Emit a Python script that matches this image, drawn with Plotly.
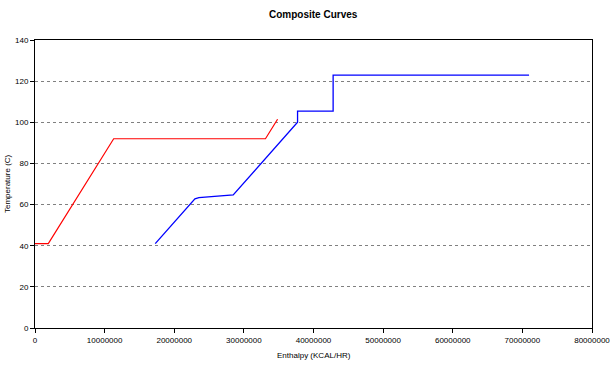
import plotly.graph_objects as go

# Hot composite curve (red)
hot_enthalpy = [0, 1910000, 11300000, 33100000, 34840000]
hot_temp = [41, 41, 92, 92, 101.5]

# Cold composite curve (blue)
cold_enthalpy = [17270000, 22970000, 23540000, 25370000, 27030000, 28470000,
                 37710000, 37710000, 42820000, 42820000, 70960000]
cold_temp = [41, 62.8, 63.4, 63.9, 64.4, 64.7, 100, 105.4, 105.4, 122.9, 122.9]

x_ticks = [0, 10000000, 20000000, 30000000, 40000000, 50000000, 60000000, 70000000, 80000000]
y_ticks = [0, 20, 40, 60, 80, 100, 120, 140]

fig = go.Figure()
fig.add_trace(go.Scatter(x=hot_enthalpy, y=hot_temp, mode="lines",
                         line=dict(color="#ff0000", width=1.2), showlegend=False))
fig.add_trace(go.Scatter(x=cold_enthalpy, y=cold_temp, mode="lines",
                         line=dict(color="#0000ff", width=1.3), showlegend=False))

font_family = "Liberation Sans, Arial, sans-serif"
fig.update_layout(
    width=614, height=366,
    margin=dict(l=35, r=22, t=40, b=38, autoexpand=False),
    paper_bgcolor="white", plot_bgcolor="white",
    font=dict(family=font_family, size=8, color="#000000"),
    xaxis=dict(
        range=[0, 80000000], tickvals=x_ticks, ticktext=[str(v) for v in x_ticks],
        showgrid=False, zeroline=False, automargin=False,
        showline=True, linecolor="#000000", linewidth=1, mirror=True,
        ticks="outside", ticklen=4, tickcolor="#000000",
        tickfont=dict(size=8), ticklabeloverflow="allow",
    ),
    yaxis=dict(
        range=[0, 140], tickvals=y_ticks, automargin=False,
        showgrid=True, gridcolor="#808080", gridwidth=1, griddash="3px,3px",
        zeroline=False,
        showline=True, linecolor="#000000", linewidth=1, mirror=True,
        ticks="outside", ticklen=4, tickcolor="#000000",
        tickfont=dict(size=8),
    ),
    annotations=[
        dict(text="<b>Composite Curves</b>", xref="paper", yref="paper", x=0.5, y=1,
             xanchor="center", yanchor="middle", yshift=26, showarrow=False,
             font=dict(size=10)),
        dict(text="Enthalpy (KCAL/HR)", xref="paper", yref="paper", x=0.5, y=0,
             xanchor="center", yanchor="middle", yshift=-27, showarrow=False,
             font=dict(size=8)),
        dict(text="Temperature (C)", xref="paper", yref="paper", x=0, y=0.5,
             xanchor="center", yanchor="middle", xshift=-28, textangle=-90,
             showarrow=False, font=dict(size=8)),
    ],
)

fig.write_html("out.html",
               config={"displayModeBar": False},
               post_script="document.body.style.margin='0';document.body.style.overflow='hidden';")
